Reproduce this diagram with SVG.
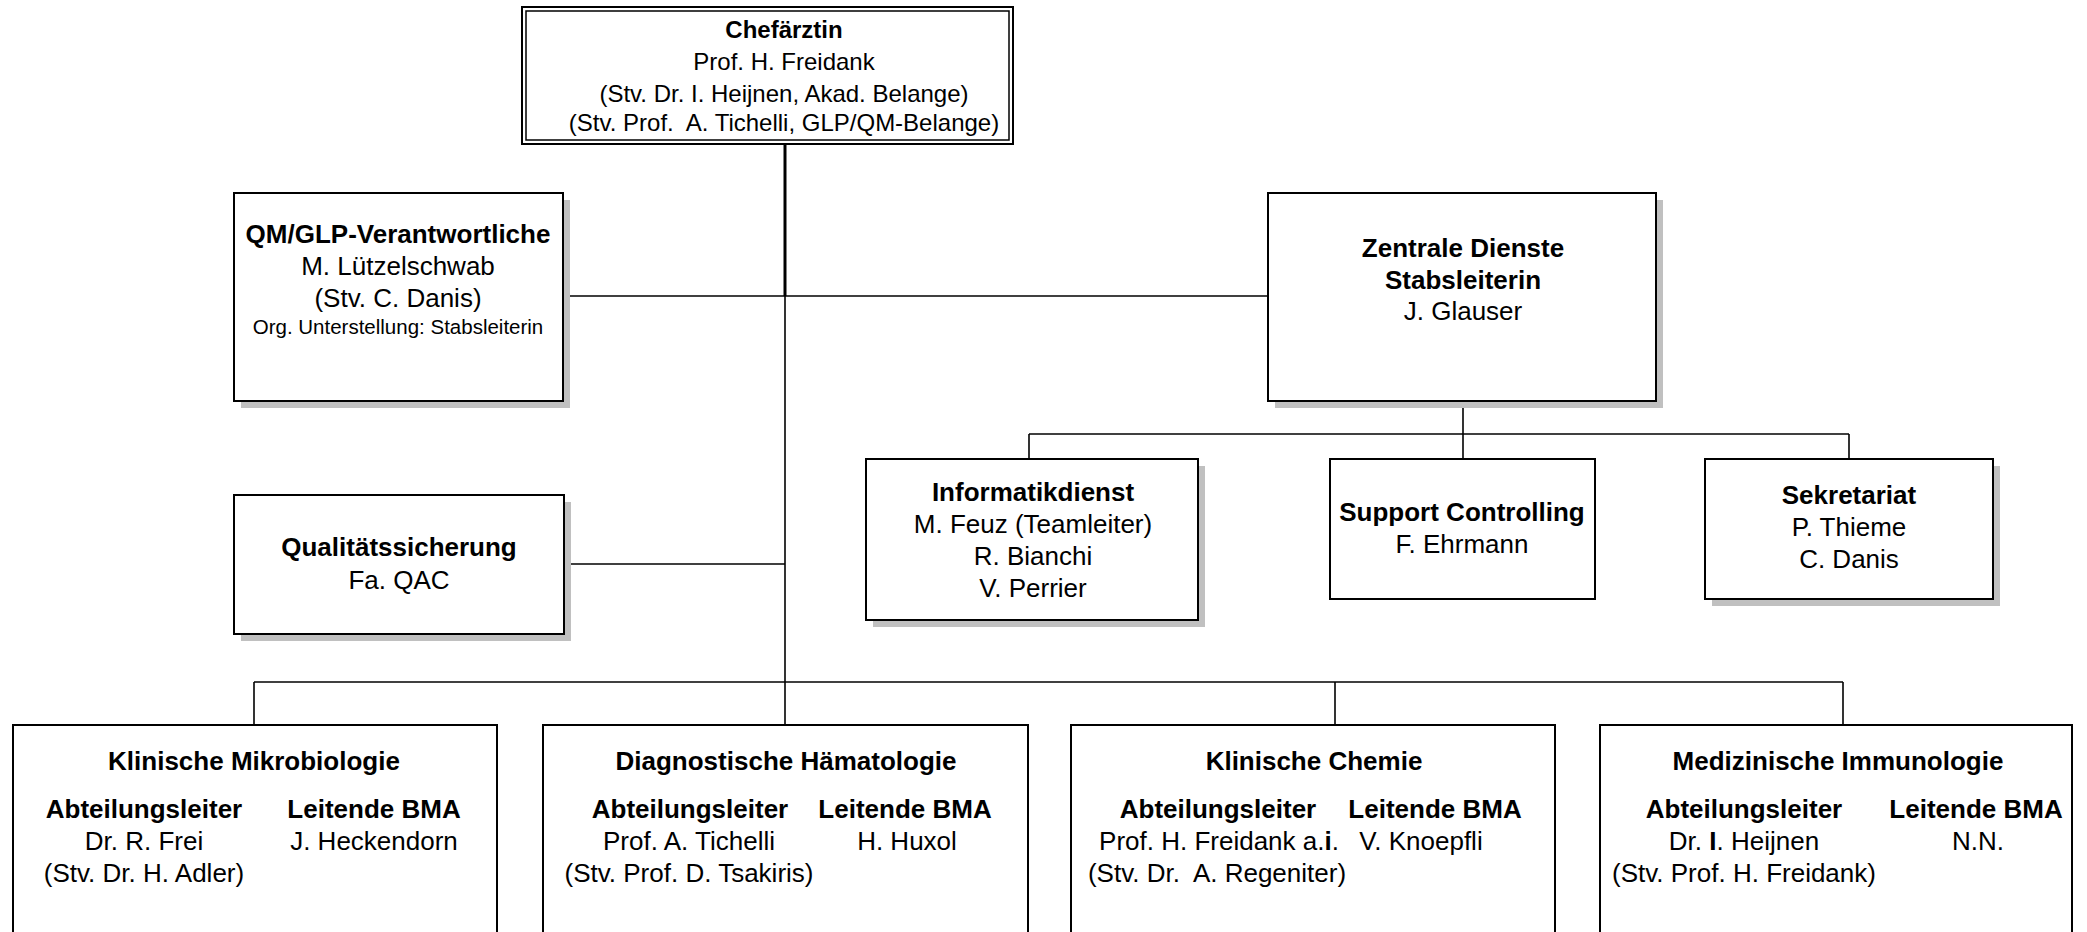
<svg xmlns="http://www.w3.org/2000/svg" width="2087" height="932" viewBox="0 0 2087 932">
<style>
text{font-family:"Liberation Sans",Arial,sans-serif;font-size:26px;fill:#000;text-anchor:middle}
.b{font-weight:bold}
.s{font-size:24px}
.sm{font-size:20.5px}
.box{fill:#fff;stroke:#000;stroke-width:2}
.sh{fill:#c0c0c0}
.ln{stroke:#000;stroke-width:1.6;fill:none}
.tk{stroke:#000;stroke-width:3;fill:none}
</style>
<g id="connectors">
<line class="tk" x1="785" y1="144" x2="785" y2="296"/>
<line class="ln" x1="785" y1="296" x2="785" y2="682"/>
<line class="ln" x1="563" y1="296" x2="1268" y2="296"/>
<line class="ln" x1="564" y1="564" x2="785" y2="564"/>
<line class="ln" x1="1463" y1="401" x2="1463" y2="434"/>
<line class="ln" x1="1029" y1="434" x2="1849" y2="434"/>
<line class="ln" x1="1029" y1="434" x2="1029" y2="459"/>
<line class="ln" x1="1463" y1="434" x2="1463" y2="459"/>
<line class="ln" x1="1849" y1="434" x2="1849" y2="459"/>
<line class="ln" x1="254" y1="682" x2="1843" y2="682"/>
<line class="ln" x1="254" y1="682" x2="254" y2="725"/>
<line class="ln" x1="785" y1="682" x2="785" y2="725"/>
<line class="ln" x1="1335" y1="682" x2="1335" y2="725"/>
<line class="ln" x1="1843" y1="682" x2="1843" y2="725"/>
</g>
<g id="chef">
<rect class="box" x="522" y="7" width="491" height="137" stroke-width="1.5"/>
<rect x="526" y="11" width="483" height="129" fill="none" stroke="#000" stroke-width="1.5"/>
<text class="s b" x="784" y="38">Chefärztin</text>
<text class="s" x="784" y="70">Prof. H. Freidank</text>
<text class="s" x="784" y="102">(Stv. Dr. I. Heijnen, Akad. Belange)</text>
<text class="s" x="784" y="131" xml:space="preserve">(Stv. Prof.  A. Tichelli, GLP/QM-Belange)</text>
</g>
<g id="qm">
<rect class="sh" x="241" y="200" width="329" height="208"/>
<rect class="box" x="234" y="193" width="329" height="208"/>
<text class="b" x="398" y="243">QM/GLP-Verantwortliche</text>
<text x="398" y="275">M. Lützelschwab</text>
<text x="398" y="307">(Stv. C. Danis)</text>
<text class="sm" x="398" y="334">Org. Unterstellung: Stabsleiterin</text>
</g>
<g id="zentrale">
<rect class="sh" x="1275" y="200" width="388" height="208"/>
<rect class="box" x="1268" y="193" width="388" height="208"/>
<text class="b" x="1463" y="257">Zentrale Dienste</text>
<text class="b" x="1463" y="289">Stabsleiterin</text>
<text x="1463" y="320">J. Glauser</text>
</g>
<g id="qs">
<rect class="sh" x="241" y="502" width="330" height="139"/>
<rect class="box" x="234" y="495" width="330" height="139"/>
<text class="b" x="399" y="556">Qualitätssicherung</text>
<text x="399" y="589">Fa. QAC</text>
</g>
<g id="informatik">
<rect class="sh" x="873" y="466" width="332" height="161"/>
<rect class="box" x="866" y="459" width="332" height="161"/>
<text class="b" x="1033" y="501">Informatikdienst</text>
<text x="1033" y="533">M. Feuz (Teamleiter)</text>
<text x="1033" y="565">R. Bianchi</text>
<text x="1033" y="597">V. Perrier</text>
</g>
<g id="support">
<rect class="box" x="1330" y="459" width="265" height="140"/>
<text class="b" x="1462" y="521">Support Controlling</text>
<text x="1462" y="553">F. Ehrmann</text>
</g>
<g id="sekretariat">
<rect class="sh" x="1712" y="466" width="288" height="140"/>
<rect class="box" x="1705" y="459" width="288" height="140"/>
<text class="b" x="1849" y="504">Sekretariat</text>
<text x="1849" y="536">P. Thieme</text>
<text x="1849" y="568">C. Danis</text>
</g>
<g id="mikro">
<rect class="box" x="13" y="725" width="484" height="220"/>
<text class="b" x="254" y="770">Klinische Mikrobiologie</text>
<text class="b" x="144" y="818">Abteilungsleiter</text>
<text class="b" x="374" y="818">Leitende BMA</text>
<text x="144" y="850">Dr. R. Frei</text>
<text x="374" y="850">J. Heckendorn</text>
<text x="144" y="882">(Stv. Dr. H. Adler)</text>
</g>
<g id="haema">
<rect class="box" x="543" y="725" width="485" height="220"/>
<text class="b" x="786" y="770">Diagnostische Hämatologie</text>
<text class="b" x="690" y="818">Abteilungsleiter</text>
<text class="b" x="905" y="818">Leitende BMA</text>
<text x="689" y="850">Prof. A. Tichelli</text>
<text x="907" y="850">H. Huxol</text>
<text x="689" y="882">(Stv. Prof. D. Tsakiris)</text>
</g>
<g id="chemie">
<rect class="box" x="1071" y="725" width="484" height="220"/>
<text class="b" x="1314" y="770">Klinische Chemie</text>
<text class="b" x="1218" y="818">Abteilungsleiter</text>
<text class="b" x="1435" y="818">Leitende BMA</text>
<text x="1219" y="850">Prof. H. Freidank a.<tspan class="b">i</tspan>.</text>
<text x="1421" y="850">V. Knoepfli</text>
<text x="1217" y="882" xml:space="preserve">(Stv. Dr.  A. Regeniter)</text>
</g>
<g id="immuno">
<rect class="box" x="1600" y="725" width="472" height="220"/>
<text class="b" x="1838" y="770">Medizinische Immunologie</text>
<text class="b" x="1744" y="818">Abteilungsleiter</text>
<text class="b" x="1976" y="818">Leitende BMA</text>
<text x="1744" y="850">Dr. <tspan class="b">I</tspan>. Heijnen</text>
<text x="1978" y="850">N.N.</text>
<text x="1744" y="882">(Stv. Prof. H. Freidank)</text>
</g>
</svg>
